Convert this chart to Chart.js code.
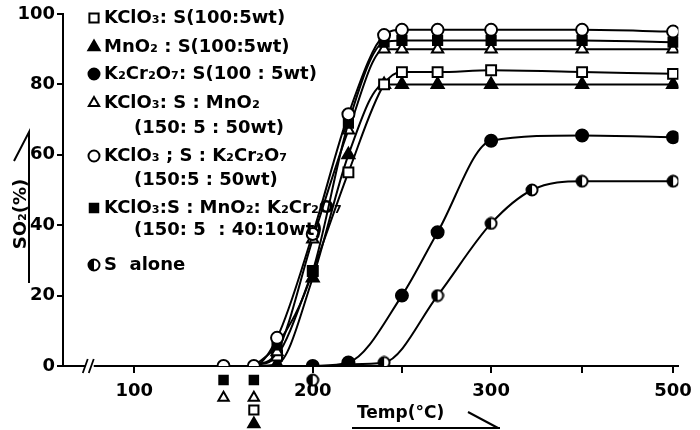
<!DOCTYPE html>
<html>
<head>
<meta charset="utf-8">
<script src="https://cdn.jsdelivr.net/npm/chart.js@4.4.0/dist/chart.umd.min.js"></script>
<style>
html, body { margin: 0; padding: 0; background: #fff; }
#wrap { width: 700px; height: 430px; }
</style>
</head>
<body>
<div id="wrap"><canvas id="grafico"></canvas></div>
<script>
// temperatures (°C) and SO2 (%)
const tKClO3S   = [167, 180, 200, 220, 240, 250, 270, 300, 400, 500];
const vKClO3S   = [0, 3, 27, 55, 80, 83.5, 83.5, 84, 83.5, 83];
const tMnO2S    = [167, 180, 200, 220, 240, 250, 270, 300, 400, 500];
const vMnO2S    = [0, 0.5, 25, 60, 80, 80, 80, 80, 80, 80];
const tK2Cr2O7S = [200, 220, 250, 270, 300, 400, 500];
const vK2Cr2O7S = [0, 1, 20, 38, 64, 65.5, 65];
const tMixMn    = [167, 180, 200, 220, 240, 250, 270, 300, 400, 500];
const vMixMn    = [0, 4, 36, 67, 90, 90, 90, 90, 90, 90];
const tMixCr    = [150, 167, 180, 200, 220, 240, 250, 270, 300, 400, 500];
const vMixCr    = [0, 0, 8, 37.5, 71.5, 94, 95.5, 95.5, 95.5, 95.5, 95];
const tMixAll   = [167, 180, 200, 220, 240, 250, 270, 300, 400, 500];
const vMixAll   = [0, 6, 27, 69, 92, 92.5, 92.5, 92.5, 92.5, 92];
const tSAlone   = [220, 240, 270, 300, 345, 400, 500];
const vSAlone   = [0.5, 1, 20, 40.5, 50, 52.5, 52.5];

// ignition marks drawn under the axis: [temp, offset below axis in %, style]
const ignMarks = [
    [150, -4, 'sqFill'], [150, -9, 'triOpen'],
    [167, -4, 'sqFill'], [167, -9, 'triOpen'], [167, -12.5, 'sqOpen'], [167, -16.5, 'triFill'],
    [200, -4, 'half']
];

const tickTemps  = [100, 200, 250, 300, 400, 500];
const tickLabels = ['100', '200', '', '300', '', '500'];
const yTicks     = [0, 20, 40, 60, 80, 100];

const legendRows = [
    ['sqOpen', 'KClO₃: S(100:5wt)'],
    ['triFill', 'MnO₂ : S(100:5wt)'],
    ['cirFill', 'K₂Cr₂O₇: S(100 : 5wt)'],
    ['triOpen', 'KClO₃: S : MnO₂'],
    [null, '(150: 5 : 50wt)'],
    ['cirOpen', 'KClO₃ ; S : K₂Cr₂O₇'],
    [null, '(150:5 : 50wt)'],
    ['sqFill', 'KClO₃:S : MnO₂: K₂Cr₂O₇'],
    [null, '(150: 5  : 40:10wt)'],
    ['half', 'S  alone']
];

// axis above 300 °C is drawn at half scale
function toAxis(t) {
    return t <= 300 ? t : 300 + (t - 300) * 0.51;
}

function pts(ts, vs) {
    let r = [];
    for (let i = 0; i < ts.length; i++) r.push({x: toAxis(ts[i]), y: vs[i]});
    return r;
}

// half filled circle marker
const half = document.createElement('canvas');
half.width = 14; half.height = 14;
(function() {
    const c = half.getContext('2d');
    c.fillStyle = '#fff';
    c.beginPath(); c.arc(7, 7, 5.5, 0, Math.PI * 2); c.fill();
    c.fillStyle = '#000';
    c.beginPath(); c.arc(7, 7, 5.5, Math.PI / 2, Math.PI * 1.5); c.fill();
    c.lineWidth = 2; c.strokeStyle = '#000';
    c.beginPath(); c.arc(7, 7, 5.5, 0, Math.PI * 2); c.stroke();
})();

const styles = {
    sqOpen:  {pointStyle: 'rect', radius: 7, bg: '#fff'},
    sqFill:  {pointStyle: 'rect', radius: 6.5, bg: '#000'},
    triOpen: {pointStyle: 'triangle', radius: 6.5, bg: '#fff'},
    triFill: {pointStyle: 'triangle', radius: 7, bg: '#000'},
    cirOpen: {pointStyle: 'circle', radius: 6, bg: '#fff'},
    cirFill: {pointStyle: 'circle', radius: 6, bg: '#000'},
    half:    {pointStyle: half, radius: 7, bg: '#000'}
};

function serie(ts, vs, st, order, hideFirst) {
    const s = styles[st];
    return {
        data: pts(ts, vs),
        borderColor: '#000',
        borderWidth: 2,
        backgroundColor: s.bg,
        pointBackgroundColor: s.bg,
        pointBorderColor: '#000',
        pointBorderWidth: 2,
        pointStyle: s.pointStyle,
        pointRadius: ts.map((t, i) => (hideFirst && i == 0) ? 0 : s.radius),
        tension: 0.4,
        cubicInterpolationMode: 'monotone',
        order: order
    };
}

const FONT = 'bold 18px "DejaVu Sans"';

function mark(ctx, st, x, y) {
    const s = styles[st];
    ctx.fillStyle = s.bg;
    ctx.strokeStyle = '#000';
    ctx.lineWidth = 2;
    Chart.helpers.drawPoint(ctx, {pointStyle: s.pointStyle, radius: s.radius - 0.5, rotation: 0, borderWidth: 2}, x, y);
}

const decor = {
    id: 'decor',
    afterDraw(chart) {
        const ctx = chart.ctx;
        const xs = chart.scales.x, ys = chart.scales.y;
        const y0 = ys.getPixelForValue(0);
        ctx.save();
        // axis break
        const bx = xs.getPixelForValue(75);
        ctx.fillStyle = '#fff';
        ctx.fillRect(bx - 4, y0 - 3, 8, 6);
        ctx.strokeStyle = '#000';
        ctx.lineWidth = 1.8;
        ctx.beginPath();
        ctx.moveTo(bx - 7, y0 + 7); ctx.lineTo(bx - 2, y0 - 7);
        ctx.moveTo(bx - 1, y0 + 7); ctx.lineTo(bx + 4, y0 - 7);
        ctx.stroke();

        // marks under the axis
        ignMarks.forEach(m => mark(ctx, m[2], xs.getPixelForValue(toAxis(m[0])), ys.getPixelForValue(m[1])));

        // legend
        ctx.font = FONT;
        ctx.textBaseline = 'middle';
        const rowsY = [18, 47, 74, 103, 128, 156, 180, 208, 230, 265];
        legendRows.forEach((row, i) => {
            const y = rowsY[i];
            if (row[0]) {
                mark(ctx, row[0], 94, y);
                ctx.fillStyle = '#000';
                ctx.fillText(row[1], 104, y);
            } else {
                ctx.fillStyle = '#000';
                ctx.fillText(row[1], 134, y);
            }
        });

        // y title
        ctx.save();
        ctx.translate(21, 214);
        ctx.rotate(-Math.PI / 2);
        ctx.textAlign = 'center';
        ctx.fillText('SO₂(%)', 0, 0);
        ctx.restore();
        ctx.strokeStyle = '#000';
        ctx.lineWidth = 2;
        ctx.beginPath();
        ctx.moveTo(29, 283); ctx.lineTo(29, 132); ctx.lineTo(14, 161);
        ctx.stroke();

        // x title
        ctx.textAlign = 'left';
        ctx.font = 'bold 17px "DejaVu Sans"';
        ctx.fillText('Temp(°C)', 357, 414);
        ctx.beginPath();
        ctx.moveTo(352, 428); ctx.lineTo(500, 428);
        ctx.moveTo(468, 412); ctx.lineTo(498, 428);
        ctx.stroke();
        ctx.restore();
    }
};

const ctx = document.getElementById('grafico');
new Chart(ctx, {
    type: 'line',
    data: {
        datasets: [
            serie(tMixCr, vMixCr, 'cirOpen', 1, false),
            serie(tMixAll, vMixAll, 'sqFill', 2, true),
            serie(tMixMn, vMixMn, 'triOpen', 3, true),
            serie(tKClO3S, vKClO3S, 'sqOpen', 4, true),
            serie(tMnO2S, vMnO2S, 'triFill', 5, true),
            serie(tK2Cr2O7S, vK2Cr2O7S, 'cirFill', 6, false),
            serie(tSAlone, vSAlone, 'half', 7, false)
        ]
    },
    options: {
        animation: false,
        responsive: true,
        maintainAspectRatio: false,
        layout: { padding: { top: 14, right: 17, left: 0, bottom: 0 } },
        plugins: { legend: { display: false }, tooltip: { enabled: false } },
        scales: {
            x: {
                type: 'linear',
                min: 60,
                max: 405,
                afterFit: s => { s.height = 64; },
                afterBuildTicks: s => { s.ticks = tickTemps.map(t => ({value: toAxis(t)})); },
                border: { color: '#000', width: 2 },
                grid: { drawOnChartArea: false, color: '#000', lineWidth: 2, tickLength: 7 },
                ticks: {
                    autoSkip: false,
                    maxRotation: 0,
                    padding: 8,
                    color: '#000',
                    font: { family: 'DejaVu Sans', size: 18, weight: 'bold' },
                    callback: (v, i) => tickLabels[i]
                }
            },
            y: {
                min: 0,
                max: 100,
                afterFit: s => { s.width = 63; },
                afterBuildTicks: s => { s.ticks = yTicks.map(v => ({value: v})); },
                border: { color: '#000', width: 2 },
                grid: { drawOnChartArea: false, color: '#000', lineWidth: 2, tickLength: 6 },
                ticks: {
                    padding: 2,
                    color: '#000',
                    font: { family: 'DejaVu Sans', size: 18, weight: 'bold' }
                }
            }
        }
    },
    plugins: [decor]
});
</script>
</body>
</html>
